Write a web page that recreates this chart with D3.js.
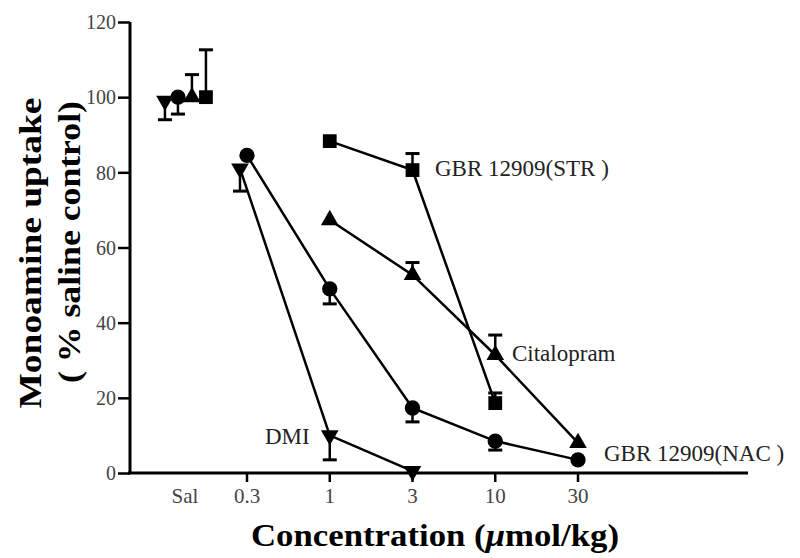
<!DOCTYPE html>
<html><head><meta charset="utf-8">
<script src="https://cdn.jsdelivr.net/npm/d3@7"></script>
<style>body{margin:0;background:#fff}svg{display:block}</style>
</head><body>
<script>
// ---- data ----
const categories = ["Sal", "0.3", "1", "3", "10", "30"];
const yTicks = [0, 20, 40, 60, 80, 100, 120];

// values per category (null = no point)
const dmiValues        = [99, 81, 10, 0.5, null, null];
const dmiErr           = [5, 6, 6.5, 0, 0, 0];
const nacValues        = [100, 84.5, 49, 17.3, 8.5, 3.5];
const nacErr           = [4.5, 0, 4, 3.7, 2.4, 0];
const citalopramValues = [100, null, 67.3, 52.7, 31.4, 8];
const citalopramErr    = [6, 0, 0, 3.3, 5.3, 0];
const strValues        = [100, null, 88.3, 80.6, 18.6, null];
const strErr           = [12.6, 0, 0, 4.4, 2.7, 0];

const seriesLabels = ["DMI", "GBR 12909(NAC )", "Citalopram", "GBR 12909(STR )"];

// ---- layout ----
const W = 800, H = 558;
const svg = d3.select("body").append("svg").attr("width", W).attr("height", H);

const y = d3.scaleLinear().domain([0, 120]).range([473, 22]);
// categorical positions: doses evenly spaced, saline slightly closer
const idx = d3.scaleLinear().domain([0, 4]).range([247, 578]);
const x = c => c === "Sal" ? idx(-0.75) : idx(categories.indexOf(c) - 1);

const serif = "'Liberation Serif','Times New Roman',serif";

// axes
const yAxis = d3.axisLeft(y).tickValues(yTicks).tickSize(12).tickPadding(2);
const gy = svg.append("g").attr("transform", "translate(130,0)").call(yAxis);
gy.select(".domain").attr("d", `M0,${y(120)}V${y(0)}`).attr("stroke", "#000").attr("stroke-width", 3);
gy.selectAll(".tick line").attr("stroke", "#000").attr("stroke-width", 2.5);
gy.selectAll(".tick text").attr("font-family", serif).attr("font-size", 20).attr("fill", "#444").attr("dy", "0.34em");

const gx = svg.append("g").attr("transform", `translate(0,${y(0)})`);
gx.append("line").attr("x1", 128).attr("x2", 748).attr("y1", 0).attr("y2", 0)
  .attr("stroke", "#000").attr("stroke-width", 3);
categories.forEach(c => {
  if (c !== "Sal") {
    gx.append("line").attr("x1", x(c)).attr("x2", x(c)).attr("y1", 0).attr("y2", 9)
      .attr("stroke", "#000").attr("stroke-width", 2.5);
  }
  gx.append("text").attr("x", x(c)).attr("y", 30).attr("text-anchor", "middle")
    .attr("font-family", serif).attr("font-size", 21).attr("fill", "#444").text(c);
});

// axis titles
svg.append("text").attr("x", 435).attr("y", 546).attr("text-anchor", "middle")
  .attr("font-family", serif).attr("font-weight", "bold").attr("font-size", 31)
  .attr("textLength", 368).attr("lengthAdjust", "spacingAndGlyphs")
  .html("Concentration (<tspan font-style='italic'>μ</tspan>mol/kg)");
svg.append("text").attr("transform", "translate(41,253) rotate(-90)").attr("text-anchor", "middle")
  .attr("font-family", serif).attr("font-weight", "bold").attr("font-size", 31)
  .attr("textLength", 311).attr("lengthAdjust", "spacingAndGlyphs")
  .text("Monoamine uptake");
svg.append("text").attr("transform", "translate(80,242) rotate(-90)").attr("text-anchor", "middle")
  .attr("font-family", serif).attr("font-weight", "bold").attr("font-size", 31)
  .attr("textLength", 282).attr("lengthAdjust", "spacingAndGlyphs")
  .text("( % saline control)");

// series
const series = [
  { vals: dmiValues, err: dmiErr, dir: -1, shape: "down", salDx: -20, dx: [0, -7, 0, 0, 0, 0] },
  { vals: nacValues, err: nacErr, dir: -1, shape: "circle", salDx: -7, dx: [0, 0, 0, 0, 0, 0] },
  { vals: citalopramValues, err: citalopramErr, dir: 1, shape: "up", salDx: 7, dx: [0, 0, 0, 0, 0, 0] },
  { vals: strValues, err: strErr, dir: 1, shape: "square", salDx: 21, dx: [0, 0, 0, 0, 0, 0] }
];
const symbolFor = s => {
  if (s === "circle") return d3.symbol().type(d3.symbolCircle).size(185)();
  if (s === "square") return d3.symbol().type(d3.symbolSquare).size(190)();
  return d3.symbol().type(d3.symbolTriangle).size(135)();
};

series.forEach(s => {
  const pts = categories.map((c, i) => ({
    c, i, v: s.vals[i], e: s.err[i],
    px: x(c) + (c === "Sal" ? s.salDx : s.dx[i])
  })).filter(d => d.v !== null);
  const linePts = pts.filter(d => d.c !== "Sal");
  svg.append("path").datum(linePts)
    .attr("d", d3.line().x(d => d.px).y(d => y(d.v)))
    .attr("fill", "none").attr("stroke", "#000").attr("stroke-width", 2.5);
  // error bars
  pts.filter(d => d.e > 0).forEach(d => {
    const yEnd = y(d.v + s.dir * d.e);
    svg.append("line").attr("x1", d.px).attr("x2", d.px).attr("y1", y(d.v)).attr("y2", yEnd)
      .attr("stroke", "#000").attr("stroke-width", 2.5);
    svg.append("line").attr("x1", d.px - 7).attr("x2", d.px + 7).attr("y1", yEnd).attr("y2", yEnd)
      .attr("stroke", "#000").attr("stroke-width", 3);
  });
  // markers
  svg.selectAll(null).data(pts).enter().append("path")
    .attr("d", symbolFor(s.shape))
    .attr("transform", d => `translate(${d.px},${y(d.v)})` + (s.shape === "down" ? " rotate(180)" : ""))
    .attr("fill", "#000");
});

// series annotations
const ann = [
  { t: seriesLabels[0], x: 265, y: 444 },
  { t: seriesLabels[1], x: 604, y: 461 },
  { t: seriesLabels[2], x: 512, y: 361 },
  { t: seriesLabels[3], x: 435, y: 176 }
];
ann.forEach(a => {
  svg.append("text").attr("x", a.x).attr("y", a.y)
    .attr("font-family", serif).attr("font-size", 23).attr("fill", "#222").text(a.t);
});
</script>
</body></html>
